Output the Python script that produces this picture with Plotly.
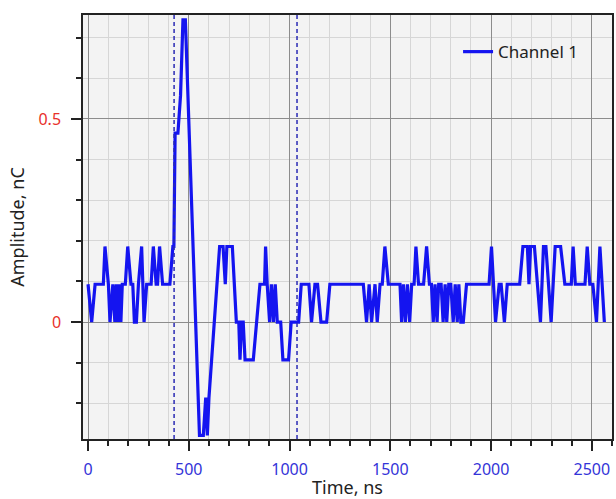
import plotly.graph_objects as go

# Channel 1 charge trace (time in ns, amplitude in nC)
time_ns = [
    0, 18, 35, 76, 84, 101, 109, 123, 133, 140, 147, 155, 163, 170, 185, 197,
    213, 222, 230, 240, 250, 266, 278, 291, 313, 324, 338, 345, 355, 370, 406,
    421, 426, 432, 446, 459, 471, 483, 553, 572, 584, 592, 600, 640, 653, 670,
    681, 689, 716, 736, 748, 754, 762, 770, 779, 820, 853, 876, 881, 889, 901,
    910, 920, 929, 939, 956, 967, 995, 1008, 1045, 1058, 1096, 1109, 1126, 1139,
    1156, 1184, 1200, 1366, 1382, 1395, 1407, 1424, 1435, 1449, 1460, 1473, 1490,
    1548, 1556, 1565, 1575, 1585, 1596, 1606, 1618, 1627, 1640, 1665, 1680, 1694,
    1704, 1713, 1722, 1732, 1740, 1752, 1762, 1772, 1780, 1790, 1800, 1812, 1822,
    1832, 1840, 1850, 1862, 1878, 1990, 2002, 2012, 2022, 2040, 2050, 2066, 2080,
    2142, 2158, 2180, 2188, 2196, 2215, 2245, 2260, 2272, 2298, 2318, 2345, 2366,
    2398, 2407, 2418, 2466, 2477, 2490, 2505, 2523, 2540, 2562,
]
amplitude_nc = [
    0.093, 0, 0.093, 0.093, 0.186, 0.093, 0, 0.093, 0, 0.093, 0, 0.093, 0, 0.093, 0.093, 0.186,
    0.093, 0.093, 0, 0, 0.093, 0.186, 0, 0.093, 0.093, 0.186, 0.093, 0.093, 0.186, 0.093, 0.093,
    0.186, 0.186, 0.465, 0.465, 0.558, 0.744, 0.744, -0.279, -0.279, -0.186, -0.279, -0.186, 0.093, 0.186, 0.186,
    0.093, 0.186, 0.186, 0, 0, -0.093, 0, 0, -0.093, -0.093, 0.093, 0.093, 0.186, 0.093, 0,
    0.093, 0, 0.093, 0, 0, -0.093, -0.093, 0, 0, 0.093, 0.093, 0, 0.093, 0.093,
    0, 0, 0.093, 0.093, 0, 0.093, 0, 0.093, 0, 0.093, 0.093, 0.186, 0.093,
    0.093, 0, 0.093, 0, 0.093, 0, 0.093, 0.093, 0.186, 0.093, 0.093, 0.186, 0.093,
    0.093, 0, 0.093, 0, 0.093, 0.093, 0, 0.093, 0, 0.093, 0.093, 0, 0.093,
    0, 0.093, 0, 0, 0.093, 0.093, 0.186, 0.093, 0, 0.093, 0.093, 0, 0.093,
    0.093, 0.186, 0.186, 0.093, 0.186, 0.186, 0, 0.186, 0.186, 0, 0.186, 0.186, 0.093,
    0.093, 0.186, 0.093, 0.093, 0.186, 0.093, 0.093, 0, 0.186, 0,
]

# Measurement window cursors (ns)
cursor_times = [427, 1037]

x_ticks = [0, 500, 1000, 1500, 2000, 2500]
x_tick_text = ["0", "500", "1000", "1500", "2000", "2500"]
y_ticks = [0, 0.5]
y_tick_text = ["0", "0.5"]

FONT = "Noto Sans, Open Sans, sans-serif"

fig = go.Figure()
fig.add_trace(go.Scatter(
    x=time_ns, y=amplitude_nc, mode="lines", name="Channel 1",
    line=dict(color="#1414f0", width=3.2),
))

for t in cursor_times:
    fig.add_vline(x=t, line=dict(color="#2a2ab4", width=1.5, dash="4px,3px"), layer="above")

fig.update_layout(
    width=616, height=499,
    margin=dict(l=83, r=4, t=15, b=60),
    paper_bgcolor="white",
    plot_bgcolor="#f3f3f3",
    font=dict(family=FONT, size=18, color="#222222"),
    showlegend=True,
    legend=dict(
        x=0.709, y=0.955, xanchor="left", yanchor="top",
        bgcolor="rgba(0,0,0,0)", font=dict(family=FONT, size=17, color="#222222"),
    ),
    xaxis=dict(
        range=[-25, 2600], tickvals=x_ticks, ticktext=x_tick_text,
        tickfont=dict(family=FONT, size=16, color="#3434d8"),
        ticks="outside", ticklen=10, tickwidth=1.5, tickcolor="#222222",
        ticklabelstandoff=5,
        showgrid=True, gridcolor="#8c8c8c", gridwidth=1,
        minor=dict(dtick=100, tick0=0, ticks="outside", ticklen=5, tickwidth=1.5,
                   tickcolor="#222222", showgrid=True, gridcolor="#d6d6d6", gridwidth=1),
        showline=True, linecolor="#222222", linewidth=1.5, mirror=True,
        zeroline=False, automargin=False,
        title=dict(text="Time, ns", font=dict(family=FONT, size=18, color="#222222"), standoff=0),
    ),
    yaxis=dict(
        range=[-0.288, 0.756], tickvals=y_ticks, ticktext=y_tick_text,
        tickfont=dict(family=FONT, size=16, color="#e8302a"),
        ticks="outside", ticklen=10, tickwidth=1.5, tickcolor="#222222",
        ticklabelstandoff=7,
        showgrid=True, gridcolor="#8c8c8c", gridwidth=1,
        minor=dict(dtick=0.1, tick0=0, ticks="outside", ticklen=5, tickwidth=1.5,
                   tickcolor="#222222", showgrid=True, gridcolor="#d6d6d6", gridwidth=1),
        showline=True, linecolor="#222222", linewidth=1.5, mirror=True,
        zeroline=False, automargin=False,
        title=dict(text="Amplitude, nC", font=dict(family=FONT, size=18, color="#222222"), standoff=9),
    ),
)

fig.write_html("out.html")
